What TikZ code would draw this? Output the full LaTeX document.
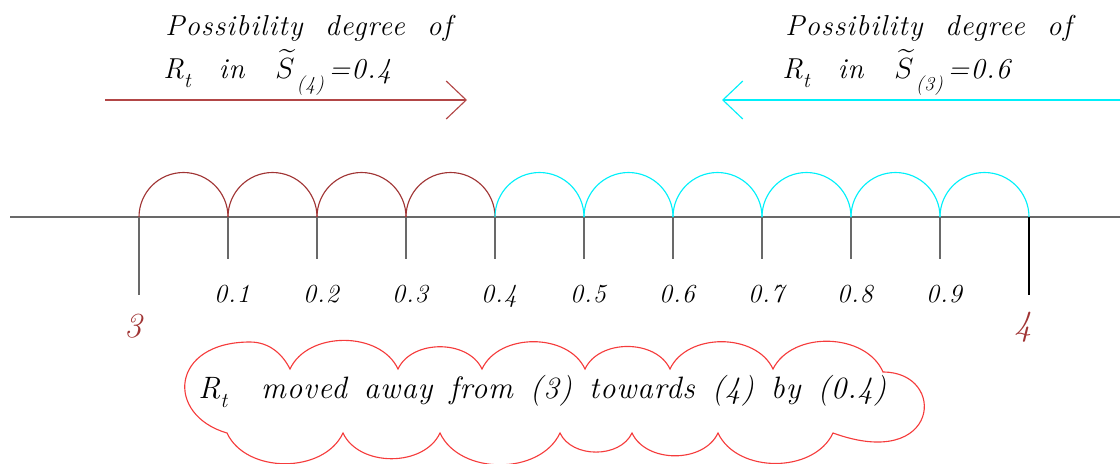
\documentclass[tikz,border=0pt]{standalone}
\usepackage{amsmath}
\usepackage{fontspec}
\usetikzlibrary{arrows.meta, positioning, calc}

\newfontfamily\headfont[LetterSpace=4, WordSpace=2]{Latin Modern Roman}
\newfontfamily\msgfont[LetterSpace=3, WordSpace=1.45]{Latin Modern Roman}
% R con subindice bajado
\newcommand{\Rsub}[1]{R\raisebox{-6.5pt}{\fontsize{15}{18}\selectfont #1}}
\definecolor{brick}{RGB}{160,52,52}
\definecolor{brickarr}{RGB}{178,70,70}
\definecolor{aqua}{RGB}{0,240,250}
\definecolor{cloudred}{RGB}{245,60,60}
\definecolor{axisgray}{RGB}{105,105,105}

\begin{document}
\begin{tikzpicture}[
    x=0.025cm, y=0.025cm,
    font=\headfont\itshape,
    >={Straight Barb[length=5mm, width=9.5mm]},
    % --- estilos ---
    axisln/.style = {draw=axisgray, line width=1.1pt},
    tickln/.style = {draw=axisgray, line width=1pt},
    half/.style   = {line width=0.8pt},
    arr/.style    = {->, line width=0.8pt},
    head/.style   = {anchor=base west, inner sep=0pt,
                     font=\headfont\itshape\fontsize{20.5}{24}\selectfont},
    num/.style    = {anchor=base, inner sep=0pt,
                     font=\headfont\itshape\fontsize{18.5}{22}\selectfont},
    endnum/.style = {anchor=base, inner sep=0pt, text=brick,
                     font=\headfont\itshape\fontsize{25}{30}\selectfont},
    msgtxt/.style = {anchor=base west, inner sep=0pt,
                     font=\msgfont\itshape\fontsize{22}{26}\selectfont},
    puff/.style   = {draw=cloudred, line width=0.8pt}
]
\useasboundingbox (0,-463) rectangle (1120,0);

% ===================== EJE =====================
\coordinate (axL) at (10,-217);
\coordinate (axR) at (1120,-217);
\draw[axisln] (axL) -- (axR);

\foreach \i in {0,...,10}
    \coordinate (t\i) at ({139+89*\i},-217);

\foreach \i in {1,...,9}
    \draw[tickln] (t\i) -- ++(0,-42);
\draw[tickln] (t0) -- ++(0,-78);
\draw[tickln, draw=black, line width=0.8pt] (t10) -- ++(0,-78);

% semicirculos
\foreach \i in {0,...,3}
    \draw[half, brick] (t\i) arc[start angle=180, end angle=0, radius=44.5];
\foreach \i in {4,...,9}
    \draw[half, aqua] (t\i) arc[start angle=180, end angle=0, radius=44.5];

% etiquetas
\foreach \i in {1,...,9}
    \node[num] (n\i) at ($(t\i)+(4,-85)$) {0.\i};
\node[endnum] (lo) at ($(t0)+(-6,-120)$) {3};
\node[endnum] (hi) at ($(t10)+(-6,-118)$) {4};

% ===================== GRADOS DE POSIBILIDAD =====================
\node[head] (deg4a) at (165,-35) {Possibility degree of};
\node[head] (deg4b) at (163,-78)
    {\Rsub{t}\hspace{4pt} in\hspace{6pt} $\widetilde{S}$\hspace{1.5pt}\raisebox{-9pt}{\fontsize{14}{16}\selectfont (4)}\,=0.4};
\node[head] (deg3a) at (785,-35) {Possibility degree of};
\node[head] (deg3b) at (782,-78)
    {\Rsub{t}\hspace{4pt} in\hspace{6pt} $\widetilde{S}$\hspace{1.5pt}\raisebox{-9pt}{\fontsize{14}{16}\selectfont (3)}\,=0.6};

\coordinate (a4s) at (105,-100);
\coordinate (a4e) at (467,-100);
\draw[arr, brickarr] (a4s) -- (a4e);
\coordinate (a3s) at (1120,-100);
\coordinate (a3e) at (722,-100);
\draw[arr, aqua] (a3s) -- (a3e);

% ===================== NUBE =====================
\draw[puff] (227,-433) .. controls (165,-415) and (170,-342) .. (250,-342)
    .. controls (270,-342) and (283,-355) .. (290,-369)
    to[bend left=65] (398,-369)
    to[bend left=65] (482,-369)
    to[bend left=65] (585,-369)
    to[bend left=65] (670,-369)
    to[bend left=65] (773,-369)
    to[bend left=65] (883,-372)
    .. controls (948,-372) and (940,-472) .. (833,-433)
    to[bend left=65] (718,-433)
    to[bend left=65] (632,-433)
    to[bend left=65] (560,-433)
    to[bend left=65] (440,-433)
    to[bend left=65] (343,-433)
    to[bend left=65] cycle;
\node[msgtxt] (msg) at (198,-398)
    {\Rsub{t}\hspace{12pt} moved away from (3) towards (4) by (0.4)};

\end{tikzpicture}
\end{document}
